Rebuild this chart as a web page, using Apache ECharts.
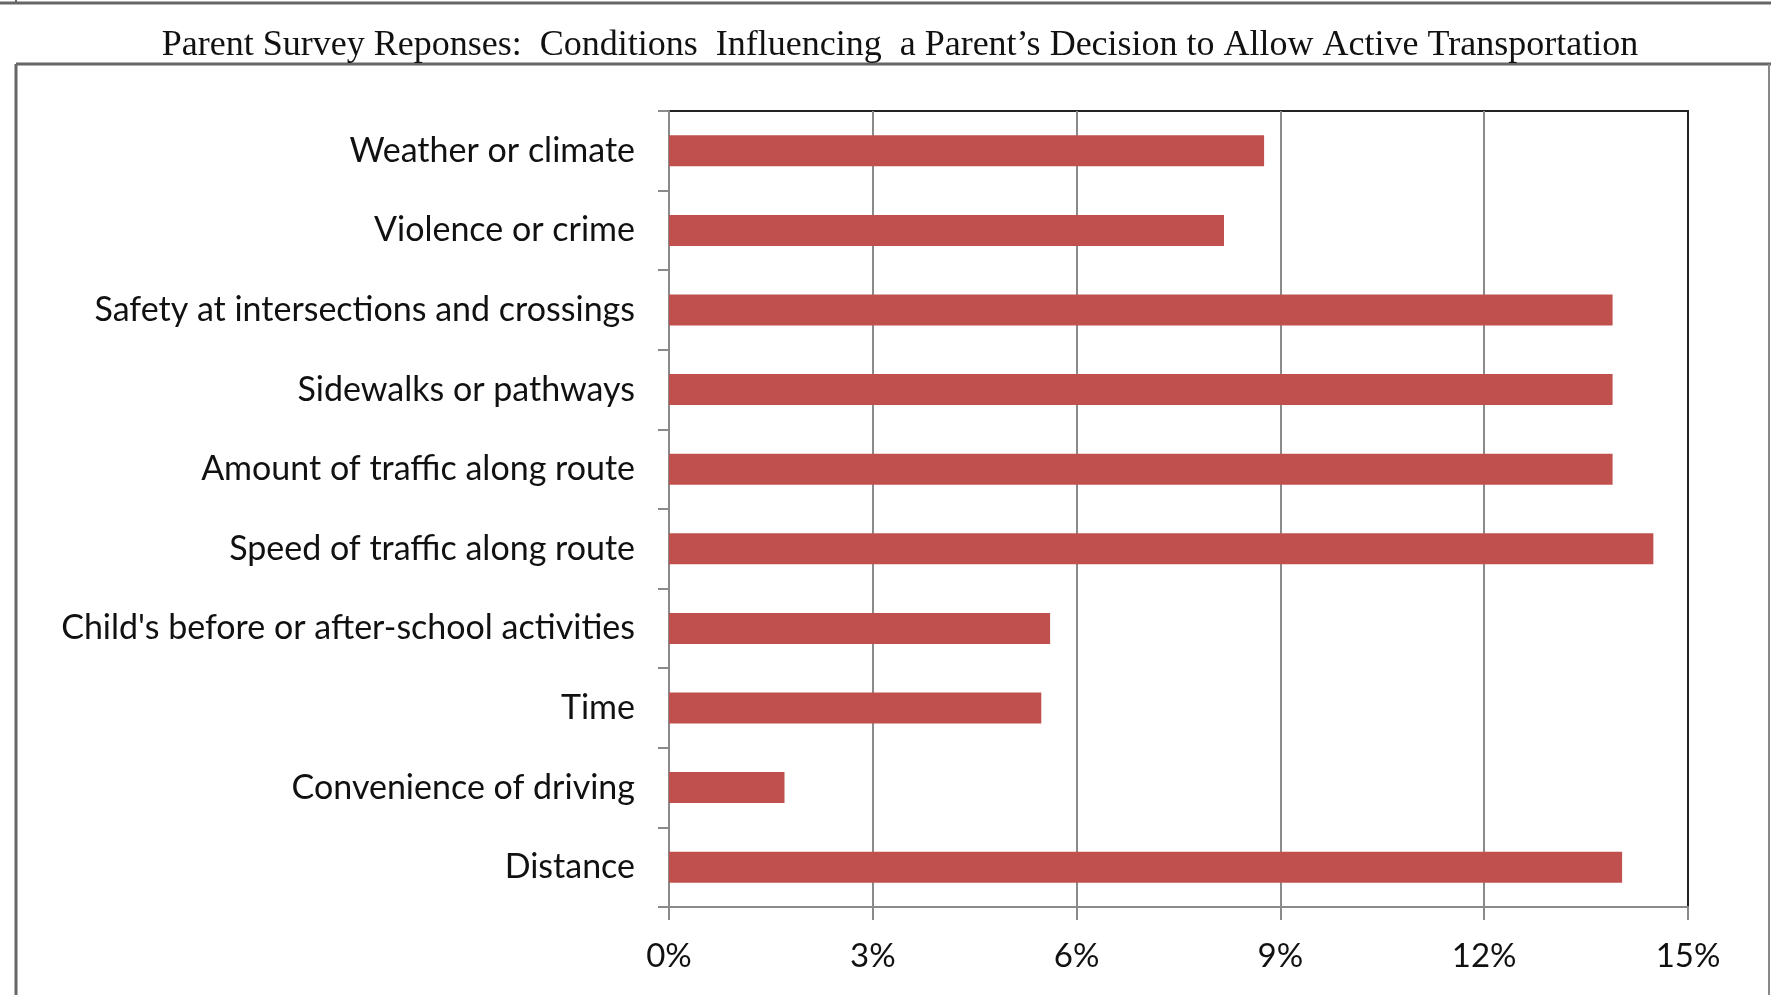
<!DOCTYPE html>
<html><head><meta charset="utf-8">
<script src="https://cdn.jsdelivr.net/npm/echarts@6/dist/echarts.min.js"></script>
<style>html,body{margin:0;padding:0;background:#fff}#c{width:1771px;height:995px}</style>
</head><body><div id="c"></div>
<script>
const titleText = "Parent Survey Reponses:  Conditions  Influencing  a Parent\u2019s Decision to Allow Active Transportation";
const categories = ["Weather or climate","Violence or crime","Safety at intersections and crossings","Sidewalks or pathways","Amount of traffic along route","Speed of traffic along route","Child's before or after-school activities","Time","Convenience of driving","Distance"];
const values = [8.76, 8.17, 13.89, 13.89, 13.89, 14.49, 5.61, 5.48, 1.70, 14.03];
const xTicks = [0, 3, 6, 9, 12, 15];

const chart = echarts.init(document.getElementById('c'));
chart.setOption({
  backgroundColor: '#fff',
  animation: false,
  title: {
    text: titleText, left: 895, top: 23, textAlign: 'center',
    textStyle: {fontFamily: 'Liberation Serif', fontSize: 36, fontWeight: 'normal', color: '#111'}
  },
  graphic: [
    {type: 'line', shape: {x1: 0, y1: 3, x2: 1771, y2: 3}, style: {stroke: '#666', lineWidth: 3}},
    {type: 'line', shape: {x1: 16, y1: 0, x2: 16, y2: 3}, style: {stroke: '#666', lineWidth: 2}},
    {type: 'line', shape: {x1: 16, y1: 64, x2: 1771, y2: 64}, style: {stroke: '#666', lineWidth: 3}},
    {type: 'line', shape: {x1: 16, y1: 64, x2: 16, y2: 995}, style: {stroke: '#666', lineWidth: 3}},
    {type: 'line', shape: {x1: 1769, y1: 64, x2: 1769, y2: 995}, style: {stroke: '#888', lineWidth: 2}}
  ],
  grid: {left: 669, right: 83, top: 111, bottom: 88, show: true, borderColor: '#222', borderWidth: 2, backgroundColor: 'transparent'},
  xAxis: {
    type: 'value', min: 0, max: 15, interval: 3,
    axisLine: {show: true, lineStyle: {color: '#8a8a8a', width: 2}},
    axisTick: {show: true, length: 13, lineStyle: {color: '#8a8a8a', width: 2}},
    splitLine: {show: true, showMinLine: false, showMaxLine: false, lineStyle: {color: '#8a8a8a', width: 2}},
    axisLabel: {formatter: v => xTicks.includes(v) ? v + '%' : '', margin: 33, fontFamily: 'Lato', fontSize: 33, color: '#111'}
  },
  yAxis: {
    type: 'category', data: categories, inverse: true,
    axisLine: {show: true, lineStyle: {color: '#8a8a8a', width: 2}},
    axisTick: {show: true, length: 11, alignWithLabel: false, lineStyle: {color: '#8a8a8a', width: 2}},
    axisLabel: {margin: 34, fontFamily: 'Lato', fontSize: 34, color: '#111'}
  },
  series: [{
    type: 'bar', data: values, barWidth: 31,
    itemStyle: {color: '#C0504D'}
  }]
});
</script></body></html>
